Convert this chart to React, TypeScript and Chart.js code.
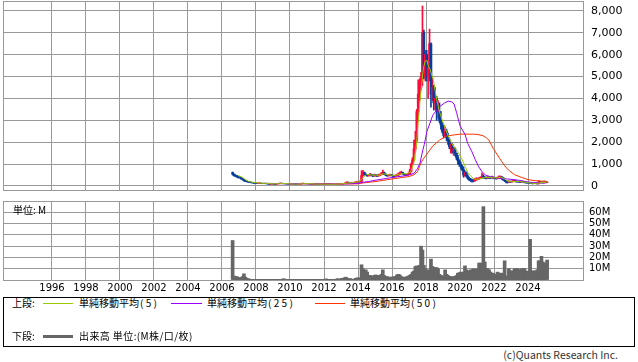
import React, { useEffect, useRef } from "react";
import { Chart, registerables } from "chart.js";
Chart.register(...registerables);

// ---------- data ----------
const START_YEAR = 2006;
const START_MONTH = 8; // first monthly candle: Aug 2006
const firstOpen = 620;

const closes = [
  540, 480, 470, 430, 400,
  380, 330, 290, 240, 220, 200, 190, 170, 160, 150, 140, 130,
  120, 125, 130, 115, 110, 120, 115, 105, 95, 85, 90, 95,
  90, 85, 95, 110, 120, 125, 115, 110, 105, 100, 95, 90,
  90, 95, 90, 85, 80, 85, 90, 100, 115, 120, 115, 110,
  105, 100, 95, 85, 90, 95, 90, 85, 80, 85, 90, 85,
  80, 85, 90, 85, 80, 75, 70, 75, 80, 85, 90, 95,
  100, 110, 120, 150, 170, 140, 150, 160, 150, 170, 180, 200,
  190, 210, 480, 620, 540, 500, 470, 480, 520, 490, 460, 500,
  480, 460, 500, 520, 560, 620, 540, 500, 470, 480, 500, 490,
  470, 450, 480, 500, 540, 580, 620, 560, 520, 500, 510, 560,
  650, 1000, 1200, 1700, 2100, 3400, 4200, 4500, 5000, 7000, 5000, 6000,
  5000, 5400, 6500, 4200, 4500, 3800, 4000, 3400, 3400, 3000, 2800, 2500,
  2300, 2500, 2200, 2100, 1800, 1900, 1600, 1700, 1500, 1300, 1150, 1000,
  900, 750, 500, 600, 450, 350, 300, 270, 250, 230, 280, 300,
  320, 350, 380, 450, 400, 380, 360, 400, 380, 370, 400, 380,
  360, 340, 380, 400, 420, 380, 300, 250, 200, 180, 200, 190,
  200, 220, 230, 210, 200, 190, 180, 200, 190, 170, 160, 150,
  140, 130, 120, 110, 120, 130, 100, 180, 160, 170, 150, 180,
  170, 180,
];

const highs = [
  640, 560, 520, 480, 440,
  420, 390, 340, 300, 260, 230, 215, 200, 180, 170, 160, 150,
  140, 145, 150, 135, 125, 135, 130, 120, 110, 100, 100, 105,
  100, 95, 105, 125, 135, 140, 130, 120, 115, 110, 105, 100,
  100, 105, 100, 95, 90, 95, 100, 115, 130, 135, 125, 120,
  115, 110, 105, 100, 100, 105, 100, 95, 90, 95, 100, 95,
  90, 95, 100, 95, 90, 85, 80, 85, 90, 95, 100, 105,
  115, 125, 140, 175, 200, 175, 165, 175, 170, 185, 200, 220,
  220, 240, 700, 720, 640, 560, 520, 530, 580, 540, 510, 540,
  530, 510, 540, 560, 620, 730, 640, 560, 520, 520, 540, 530,
  510, 490, 510, 540, 600, 640, 680, 640, 580, 540, 550, 600,
  760, 1050, 1300, 2100, 2500, 3500, 4850, 4900, 5200, 8230, 7130, 6200,
  6200, 5600, 7170, 6550, 4980, 4600, 4500, 4100, 3900, 3800, 3400, 2900,
  2780, 2700, 2600, 2420, 2200, 2000, 1950, 1800, 1750, 1510, 1400, 1200,
  1100, 950, 870, 700, 650, 500, 400, 350, 320, 300, 350, 380,
  360, 400, 420, 600, 520, 430, 410, 440, 430, 420, 450, 420,
  400, 390, 420, 460, 460, 430, 380, 320, 260, 230, 240, 230,
  240, 260, 270, 250, 230, 220, 210, 230, 220, 200, 190, 180,
  170, 160, 150, 140, 150, 150, 140, 250, 200, 200, 190, 230,
  210, 200,
];

const lows = [
  500, 450, 420, 390, 360,
  360, 310, 270, 220, 200, 180, 165, 150, 140, 130, 120, 115,
  110, 110, 115, 105, 100, 105, 100, 95, 85, 75, 80, 85,
  80, 75, 80, 90, 105, 110, 105, 100, 95, 90, 85, 80,
  80, 85, 80, 75, 70, 75, 80, 85, 95, 105, 105, 100,
  95, 90, 85, 75, 80, 85, 80, 75, 70, 75, 80, 75,
  70, 75, 80, 75, 70, 65, 60, 65, 70, 75, 80, 85,
  90, 95, 105, 115, 140, 125, 135, 140, 140, 145, 160, 170,
  170, 180, 200, 460, 500, 470, 440, 450, 460, 460, 430, 440,
  450, 430, 450, 480, 500, 540, 520, 470, 440, 450, 460, 460,
  440, 410, 440, 460, 490, 520, 560, 540, 500, 470, 480, 500,
  540, 640, 950, 1150, 1600, 2000, 3000, 3900, 4400, 4600, 4900, 4800,
  4800, 4000, 4800, 3600, 3900, 3470, 3500, 3000, 3100, 2900, 2600, 2420,
  2200, 2250, 2060, 1900, 1700, 1500, 1500, 1400, 1370, 1200, 1000, 900,
  800, 700, 400, 450, 400, 300, 250, 200, 180, 190, 220, 260,
  280, 310, 330, 370, 350, 340, 320, 340, 340, 330, 350, 330,
  330, 310, 320, 360, 370, 300, 250, 200, 140, 130, 160, 160,
  170, 190, 200, 180, 170, 160, 150, 170, 160, 140, 130, 120,
  120, 110, 100, 90, 100, 100, 90, 95, 140, 140, 130, 140,
  150, 160,
];

// monthly volume, millions
const volumes = [
  35, 3.5, 3, 3, 2,
  2, 2, 3, 5.5, 2.5, 1.5, 1, 0.8, 0.5, 0.5, 0.3, 0.3,
  0.3, 0.3, 0.2, 0.2, 0.2, 0.3, 0.2, 0.2, 0.2, 0.2, 0.2, 0.2,
  0.2, 0.2, 0.2, 0.3, 0.3, 0.3, 0.4, 1.2, 0.5, 0.3, 0.2, 0.2,
  0.2, 0.2, 0.2, 0.2, 0.2, 0.2, 0.2, 0.3, 0.4, 0.4, 0.3, 0.2,
  0.3, 0.2, 0.2, 0.2, 0.2, 0.2, 0.2, 0.2, 0.2, 0.2, 0.2, 0.2,
  0.2, 1.0, 0.3, 0.2, 0.2, 0.2, 0.2, 0.3, 0.5, 1.2, 0.8, 0.5,
  1.5, 1.0, 2.0, 2.5, 1.5, 1.0, 1.2, 0.8, 0.6, 0.8, 1.5, 2.0,
  1.5, 2.0, 13.5, 10, 8, 9, 7, 4, 4, 3.5, 3.5, 4,
  4.5, 3.5, 4, 4, 5, 9, 4, 3, 3, 2.5, 2.5, 2.5,
  2.5, 3, 3, 4.5, 5, 4.5, 3, 2.5, 2.5, 2.5, 2.8, 3.5,
  4, 5, 7, 8, 12, 12.5, 12, 13, 30, 26.5, 13, 10,
  9, 8, 9, 18.5, 12, 11, 11, 11, 10, 5, 4, 3.5,
  3.5, 9, 5, 4, 3, 3, 2.5, 3, 3, 4, 6, 6.5,
  7, 6, 7, 12.5, 9, 8, 8, 9, 9, 10, 9, 9.5,
  10, 15, 15, 14, 65, 16, 10, 10, 9, 7, 6, 6,
  5, 5, 7, 6, 6, 6, 6, 17, 3.5, 3.5, 10, 8,
  8, 8, 10, 10, 10, 9, 9, 10, 10, 10, 6, 8,
  7, 36, 8, 8, 8, 8, 9, 17, 17, 21, 16, 15,
  6, 17.7,
];

// moving averages: [year, value]
const ma5 = [
  [2006.96, 480], [2007.2, 400], [2007.4, 280], [2007.6, 200], [2007.8, 170], [2008.0, 150],
  [2008.3, 130], [2008.6, 120], [2009.0, 100], [2009.4, 105], [2009.7, 115], [2010.0, 95],
  [2010.4, 85], [2010.8, 105], [2011.1, 110], [2011.5, 90], [2012.0, 85], [2012.5, 78],
  [2013.0, 95], [2013.4, 135], [2013.8, 160], [2014.1, 210], [2014.3, 380], [2014.5, 530],
  [2014.8, 500], [2015.2, 490], [2015.5, 560], [2015.8, 510], [2016.2, 480], [2016.5, 560],
  [2016.9, 560], [2017.1, 650], [2017.3, 1100], [2017.45, 2000], [2017.55, 3000], [2017.65, 3900],
  [2017.75, 4700], [2017.85, 5400], [2017.95, 5700], [2018.05, 5750], [2018.15, 5450], [2018.24, 5330],
  [2018.43, 4850], [2018.63, 3940], [2018.82, 3330], [2019.02, 2870], [2019.3, 2300], [2019.6, 1830],
  [2019.9, 1520], [2020.1, 1250], [2020.3, 900], [2020.45, 620], [2020.6, 480], [2020.8, 330],
  [2021.0, 300], [2021.3, 360], [2021.6, 400], [2021.9, 380], [2022.2, 370], [2022.4, 400],
  [2022.6, 340], [2022.8, 230], [2023.0, 200], [2023.3, 210], [2023.6, 195], [2023.9, 165],
  [2024.2, 125], [2024.5, 115], [2024.7, 140], [2024.9, 165], [2025.1, 175],
];

const ma25 = [
  [2008.6, 125], [2009.0, 115], [2009.5, 105], [2010.0, 100], [2010.5, 100], [2011.0, 100],
  [2011.5, 100], [2012.0, 95], [2012.5, 90], [2013.0, 92], [2013.5, 100], [2014.0, 120],
  [2014.3, 170], [2014.6, 200], [2015.0, 260], [2015.7, 350], [2016.3, 420], [2016.9, 480],
  [2017.3, 580], [2017.5, 800], [2017.65, 1050], [2017.8, 1600], [2017.9, 1900], [2018.05, 2480],
  [2018.4, 3240], [2018.8, 3630], [2019.1, 3800], [2019.3, 3880], [2019.5, 3850], [2019.65, 3750],
  [2019.8, 3350], [2020.0, 2750], [2020.3, 2350], [2020.45, 1950], [2020.7, 1570], [2020.9, 1200],
  [2021.1, 880], [2021.3, 650], [2021.5, 500], [2021.8, 420], [2022.0, 390], [2022.25, 350],
  [2022.8, 320], [2023.4, 270], [2024.0, 180], [2024.6, 140], [2025.1, 140],
];

const ma50 = [
  [2010.8, 100], [2011.5, 100], [2012.0, 97], [2012.5, 95], [2013.0, 93], [2013.5, 95],
  [2014.0, 100], [2014.3, 140], [2015.0, 200], [2015.5, 260], [2016.0, 320], [2016.5, 380],
  [2017.0, 430], [2017.3, 520], [2017.5, 650], [2017.65, 960], [2017.8, 1190], [2018.1, 1510],
  [2018.4, 1830], [2018.8, 2100], [2019.2, 2280], [2019.6, 2330], [2020.0, 2370], [2020.75, 2370],
  [2021.0, 2360], [2021.35, 2300], [2021.55, 2200], [2021.7, 2100], [2021.95, 1720], [2022.3, 1300],
  [2022.6, 950], [2022.85, 730], [2023.2, 520], [2023.6, 400], [2024.0, 290], [2024.45, 240],
  [2025.1, 210],
];

const yearTicks = [1996, 1998, 2000, 2002, 2004, 2006, 2008, 2010, 2012, 2014, 2016, 2018, 2020, 2022, 2024];
const priceTicks = [0, 1000, 2000, 3000, 4000, 5000, 6000, 7000, 8000];
const volumeTicks = [0, 10, 20, 30, 40, 50, 60, 70];

// ---------- helpers ----------
const X_MIN = 1993.118;
const X_MAX = 2027.235;
const P_MIN = -183;
const P_MAX = 8457;
const V_MIN = 0;
const V_MAX = 70;
const GRID = "#999999";
const UP = "#ff0a3c";
const DOWN = "#0a3c9c";

const monthX = (i: number) => START_YEAR + (START_MONTH - 1 + i + 0.5) / 12;

const framePlugin = {
  id: "frame",
  afterDraw(chart: any) {
    const { ctx, chartArea: a } = chart;
    ctx.save();
    ctx.strokeStyle = GRID;
    ctx.lineWidth = 1;
    ctx.strokeRect(a.left + 0.5, a.top + 0.5, a.right - a.left, a.bottom - a.top);
    ctx.restore();
  },
};

const cjk = '"Noto Sans CJK JP", "Noto Sans", sans-serif';

export default function App() {
  const topRef = useRef<HTMLCanvasElement | null>(null);
  const botRef = useRef<HTMLCanvasElement | null>(null);

  useEffect(() => {
    Chart.defaults.font.family = "DejaVu Sans";
    const opens = closes.map((c, i) => (i === 0 ? firstOpen : closes[i - 1]));
    const colors = closes.map((c, i) => (c >= opens[i] ? UP : DOWN));
    const bodies = closes.map((c, i) => ({ x: monthX(i), y: [Math.min(opens[i], c), Math.max(opens[i], c)] }));
    const wicks = closes.map((c, i) => ({ x: monthX(i), y: [lows[i], highs[i]] }));
    const toPts = (arr: number[][]) => arr.map(([x, y]) => ({ x, y }));

    const xScale = (showLabels: boolean, height: number) => ({
      type: "linear",
      min: X_MIN,
      max: X_MAX,
      offset: false,
      grid: { color: GRID, drawTicks: false, offset: false, lineWidth: 1 },
      border: { display: false },
      ticks: {
        display: showLabels,
        autoSkip: false,
        maxRotation: 0,
        padding: 2,
        color: "#000",
        font: { family: "DejaVu Sans", size: 10 },
        callback: (v: any) => String(v),
      },
      afterBuildTicks: (s: any) => {
        s.ticks = yearTicks.map((v) => ({ value: v }));
      },
      afterFit: (s: any) => {
        s.height = height;
        s.paddingLeft = 0;
        s.paddingRight = 0;
      },
    });

    const yScale = (min: number, max: number, ticks: number[], size: number, padding: number, cb: (v: any) => string) => ({
      type: "linear",
      position: "right",
      min,
      max,
      grid: { color: GRID, drawTicks: false },
      border: { display: false },
      ticks: {
        padding,
        autoSkip: false,
        color: "#000",
        font: { family: "DejaVu Sans", size },
        callback: cb,
      },
      afterBuildTicks: (s: any) => {
        s.ticks = ticks.map((v) => ({ value: v }));
      },
      afterFit: (s: any) => {
        s.width = 55;
        s.paddingTop = 0;
        s.paddingBottom = 0;
      },
    });

    const top = new Chart(topRef.current as HTMLCanvasElement, {
      type: "bar",
      data: {
        datasets: [
          { type: "line", data: toPts(ma5), borderColor: "#99cc00", borderWidth: 1, pointRadius: 0, order: 0 } as any,
          { type: "line", data: toPts(ma25), borderColor: "#9900ff", borderWidth: 1, pointRadius: 0, order: 0 } as any,
          { type: "line", data: toPts(ma50), borderColor: "#ff3300", borderWidth: 1, pointRadius: 0, order: 0 } as any,
          { type: "bar", data: bodies, backgroundColor: colors, barThickness: 2, grouped: false, order: 5 } as any,
          { type: "bar", data: wicks, backgroundColor: colors, barThickness: 1, grouped: false, order: 6 } as any,
        ],
      },
      options: {
        animation: false,
        responsive: false,
        devicePixelRatio: 1,
        events: [],
        layout: { padding: { left: 3, top: 1, right: 0, bottom: 5 } },
        plugins: { legend: { display: false }, tooltip: { enabled: false } },
        scales: {
          x: xScale(false, 0) as any,
          y: yScale(P_MIN, P_MAX, priceTicks, 11, 8, (v: any) => Number(v).toLocaleString("en-US")) as any,
        },
      },
      plugins: [framePlugin],
    });

    const bot = new Chart(botRef.current as HTMLCanvasElement, {
      type: "bar",
      data: {
        datasets: [
          {
            data: volumes.map((v, i) => ({ x: monthX(i), y: v })),
            backgroundColor: "#666666",
            barThickness: 3,
            grouped: false,
          } as any,
        ],
      },
      options: {
        animation: false,
        responsive: false,
        devicePixelRatio: 1,
        events: [],
        layout: { padding: { left: 3, top: 6, right: 0, bottom: 0 } },
        plugins: { legend: { display: false }, tooltip: { enabled: false } },
        scales: {
          x: xScale(true, 15) as any,
          y: yScale(V_MIN, V_MAX, volumeTicks, 10, 6, (v: any) => (v === V_MIN || v === V_MAX ? "" : `${v}M`)) as any,
        },
      },
      plugins: [framePlugin],
    });

    return () => {
      top.destroy();
      bot.destroy();
    };
  }, []);

  const base = {
    position: "absolute" as const,
    fontFamily: cjk,
    fontSize: 10,
    lineHeight: "14px",
    color: "#000",
    whiteSpace: "nowrap" as const,
  };
  const txt = (left: number, topPx: number, s: string, extra: any = {}) => (
    <span style={{ ...base, left, top: topPx, ...extra }}>{s}</span>
  );
  const maLabel = (left: number, n: string, topPx: number) => (
    <span style={{ ...base, left, top: topPx }}>
      単純移動平均<span style={{ letterSpacing: "2.3px", marginLeft: 1 }}>({n})</span>
    </span>
  );
  const line = (left: number, width: number, topPx: number, color: string, h = 1) => (
    <div style={{ position: "absolute", left, width, top: topPx, height: h, background: color }} />
  );

  return (
    <div style={{ position: "absolute", left: 0, top: 0, width: 638, height: 362, background: "#fff", overflow: "hidden" }}>
      <canvas ref={topRef} width={638} height={195} style={{ position: "absolute", left: 0, top: 0, width: 638, height: 195 }} />
      <canvas ref={botRef} width={638} height={100} style={{ position: "absolute", left: 0, top: 195, width: 638, height: 100 }} />
      {txt(13, 203, "単位: M")}
      <div style={{ position: "absolute", left: 3, top: 297, width: 632, height: 50, border: "1px solid #000", boxSizing: "border-box" }} />
      {txt(12, 296, "上段:")}
      {line(43, 30, 303, "#99cc00")}
      {maLabel(79, "5", 296)}
      {line(171, 31, 303, "#9900ff")}
      {maLabel(207, "25", 296)}
      {line(315, 30, 303, "#ff3300")}
      {maLabel(350, "50", 296)}
      {txt(12, 329, "下段:")}
      {line(43, 30, 335, "#666666", 3)}
      {txt(79, 329, "出来高 単位:(M株/口/枚)", { letterSpacing: "0.4px" })}
      <span style={{ ...base, right: 20, top: 348, fontSize: 10.5, color: "#333" }}>(c)Quants Research Inc.</span>
    </div>
  );
}
